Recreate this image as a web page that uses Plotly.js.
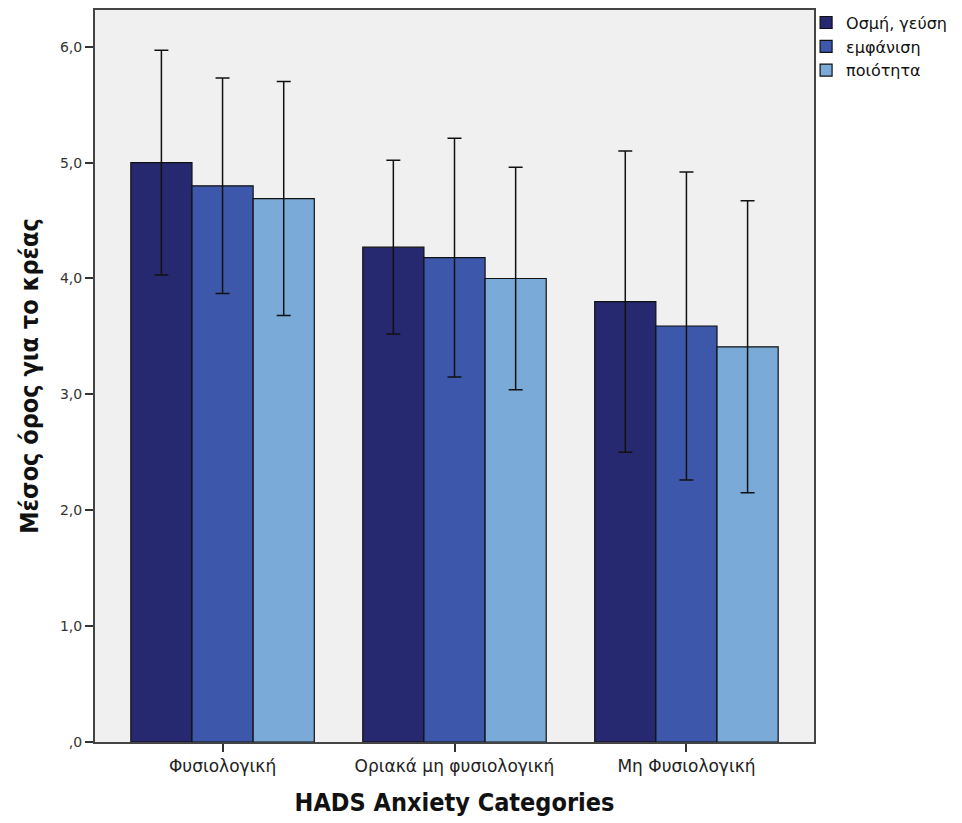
<!DOCTYPE html>
<html>
<head>
<meta charset="utf-8">
<script src="https://cdn.plot.ly/plotly-3.0.1.min.js"></script>
<style>html,body{margin:0;padding:0;background:#fff;}#chart{width:962px;height:823px;}</style>
</head>
<body>
<div id="chart"></div>
<script>
const categories = ["Φυσιολογική", "Οριακά μη φυσιολογική", "Μη Φυσιολογική"];
const seriesNames = ["Οσμή, γεύση", "εμφάνιση", "ποιότητα"];
const smellTaste = [5.00, 4.27, 3.80];
const appearance = [4.80, 4.18, 3.59];
const quality = [4.69, 4.00, 3.41];
const smellTasteErr = [0.97, 0.75, 1.30];
const appearanceErr = [0.93, 1.03, 1.33];
const qualityErr = [1.01, 0.96, 1.26];
const yTickVals = [0, 1, 2, 3, 4, 5, 6];
const yTickText = [",0", "1,0", "2,0", "3,0", "4,0", "5,0", "6,0"];
const colors = ["#26296f", "#3d58ab", "#7aaad7"];

const values = [smellTaste, appearance, quality];
const errs = [smellTasteErr, appearanceErr, qualityErr];
const traces = values.map((v, i) => ({
  type: "bar",
  name: seriesNames[i],
  x: categories,
  y: v,
  marker: {color: colors[i], line: {color: "#111", width: 1.2}},
  error_y: {type: "data", array: errs[i], visible: true, color: "#111", thickness: 1.5, width: 7}
}));

const layout = {
  width: 962, height: 823,
  margin: {l: 95, r: 148, t: 10, b: 81, autoexpand: false},
  paper_bgcolor: "#ffffff",
  plot_bgcolor: "#f0f0f0",
  barmode: "group",
  bargap: 0.209,
  bargroupgap: 0,
  showlegend: true,
  legend: {
    x: 0.989, xanchor: "left", y: 1.006, yanchor: "top",
    font: {family: "DejaVu Sans", size: 16, color: "#111"},
    bgcolor: "rgba(0,0,0,0)", tracegroupgap: 0, itemwidth: 30
  },
  font: {family: "DejaVu Sans", color: "#222"},
  xaxis: {
    type: "category",
    range: [-0.55, 2.55],
    automargin: false,
    showline: true, linecolor: "#444", linewidth: 2, mirror: true,
    ticks: "outside", ticklen: 8, tickcolor: "#333", tickwidth: 1.5,
    tickfont: {family: "DejaVu Sans", size: 17, color: "#222"},
    showgrid: false, zeroline: false,
    title: {text: "HADS Anxiety Categories", font: {family: "DejaVu Sans Condensed", size: 25, color: "#111", weight: "bold"}, standoff: 18}
  },
  yaxis: {
    range: [0, 6.317],
    automargin: false,
    tickvals: yTickVals, ticktext: yTickText,
    showline: true, linecolor: "#444", linewidth: 2, mirror: true,
    ticks: "outside", ticklen: 8, tickcolor: "#333", tickwidth: 1.5,
    tickfont: {family: "DejaVu Sans", size: 14, color: "#333"},
    showgrid: false, zeroline: false,
    title: {text: "Μέσος όρος για το κρέας", font: {family: "DejaVu Sans Condensed", size: 25, color: "#111", weight: "bold"}, standoff: 14}
  }
};

Plotly.newPlot("chart", traces, layout, {displayModeBar: false, responsive: false});
</script>
</body>
</html>
